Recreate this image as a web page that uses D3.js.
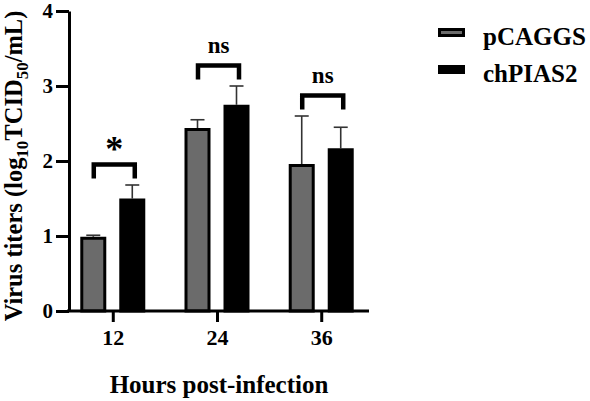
<!DOCTYPE html>
<html>
<head>
<meta charset="utf-8">
<script src="https://cdn.jsdelivr.net/npm/d3@7"></script>
<style>
  body { margin: 0; background: #fff; }
  text { font-family: "Liberation Serif", "Times New Roman", serif; font-weight: bold; fill: #000; }
</style>
</head>
<body>
<div id="chart"></div>
<script>
// hours post-infection
var hours = ["12", "24", "36"];
var seriesNames = ["pCAGGS", "chPIAS2"];
var pcaggsMean = [0.99, 2.44, 1.96];
var pcaggsErr = [0.02, 0.11, 0.64];
var chpias2Mean = [1.50, 2.75, 2.17];
var chpias2Err = [0.18, 0.25, 0.28];
var sigLabels = ["*", "ns", "ns"];
var yTicks = [0, 1, 2, 3, 4];

var width = 590, height = 401;
var svg = d3.select("#chart").append("svg")
  .attr("width", width).attr("height", height);

var x = d3.scalePoint().domain(hours).range([69, 365]).padding(0.42);
var y = d3.scaleLinear().domain([0, 4]).range([311, 11]);

var barW = 23, offs = 19.5;
var series = [
  { name: seriesNames[0], mean: pcaggsMean, err: pcaggsErr, fill: "#6b6b6b", dx: -offs },
  { name: seriesNames[1], mean: chpias2Mean, err: chpias2Err, fill: "#000", dx: offs }
];

// error bars (upper only), drawn under bars
series.forEach(function(s){
  var g = svg.append("g");
  hours.forEach(function(h, i){
    var cx = x(h) + s.dx;
    var top = y(s.mean[i] + s.err[i]);
    g.append("line").attr("x1", cx).attr("x2", cx)
      .attr("y1", y(s.mean[i])).attr("y2", top)
      .attr("stroke", "#333").attr("stroke-width", 1.6);
    g.append("line").attr("x1", cx - 7).attr("x2", cx + 7)
      .attr("y1", top).attr("y2", top)
      .attr("stroke", "#333").attr("stroke-width", 1.6);
  });
});

// bars
series.forEach(function(s){
  svg.append("g").selectAll("rect").data(hours).enter().append("rect")
    .attr("x", function(d){ return x(d) + s.dx - barW / 2; })
    .attr("y", function(d, i){ return y(s.mean[i]) + 1.5; })
    .attr("width", barW)
    .attr("height", function(d, i){ return y(0) - y(s.mean[i]) - 1.5; })
    .attr("fill", s.fill)
    .attr("stroke", "#000").attr("stroke-width", 3);
});

// significance brackets
hours.forEach(function(h, i){
  var topVal = Math.max(pcaggsMean[i] + pcaggsErr[i], chpias2Mean[i] + chpias2Err[i]);
  var by = y(topVal) - 20.5;
  var x1 = x(h) - 19, x2 = x(h) + 22;
  svg.append("path")
    .attr("d", "M" + x1 + "," + (by + 14) + "V" + by + "H" + x2 + "V" + (by + 14))
    .attr("fill", "none").attr("stroke", "#000").attr("stroke-width", 4.5);
  svg.append("text")
    .attr("x", (x1 + x2) / 2)
    .attr("y", sigLabels[i] == "*" ? by - 4 : by - 13)
    .attr("text-anchor", "middle")
    .style("font-size", sigLabels[i] == "*" ? "36px" : "23px")
    .text(sigLabels[i]);
});

// x axis
svg.append("line").attr("x1", 67).attr("x2", 369).attr("y1", 311).attr("y2", 311)
  .attr("stroke", "#000").attr("stroke-width", 3);
var xAxis = svg.append("g").attr("transform", "translate(0,311)")
  .call(d3.axisBottom(x).tickSize(11).tickPadding(7));
xAxis.select(".domain").remove();
xAxis.selectAll("line").attr("stroke", "#000").attr("stroke-width", 3);
xAxis.selectAll("text").style("font-size", "22px").style("font-family", "Liberation Serif").style("font-weight", "bold");

// y axis
var yAxis = svg.append("g").attr("transform", "translate(69,0)")
  .call(d3.axisLeft(y).tickValues(yTicks).tickFormat(d3.format("d")).tickSize(13).tickSizeOuter(0).tickPadding(3));
yAxis.select(".domain").attr("stroke", "#000").attr("stroke-width", 3);
yAxis.selectAll("line").attr("stroke", "#000").attr("stroke-width", 3);
yAxis.selectAll("text").style("font-size", "21px").style("font-family", "Liberation Serif").style("font-weight", "bold");

// axis titles
svg.append("text").attr("x", 219).attr("y", 393).attr("text-anchor", "middle")
  .style("font-size", "25px").text("Hours post-infection");

var yt = svg.append("text").attr("transform", "translate(22,166) rotate(-90)")
  .attr("text-anchor", "middle").style("font-size", "24.5px");
yt.append("tspan").text("Virus titers (log");
yt.append("tspan").attr("dy", 6).style("font-size", "17px").text("10");
yt.append("tspan").attr("dy", -6).text("TCID");
yt.append("tspan").attr("dy", 6).style("font-size", "17px").text("50");
yt.append("tspan").attr("dy", -6).text("/mL)");

// legend
var legend = svg.append("g");
series.forEach(function(s, i){
  var ly = 29.5 + i * 37;
  legend.append("rect").attr("x", 439.5).attr("y", ly).attr("width", 24).attr("height", 6)
    .attr("fill", s.fill).attr("stroke", "#000").attr("stroke-width", 3);
  legend.append("text").attr("x", 483).attr("y", ly + 15.5).style("font-size", "25px").text(s.name);
});
</script>
</body>
</html>
